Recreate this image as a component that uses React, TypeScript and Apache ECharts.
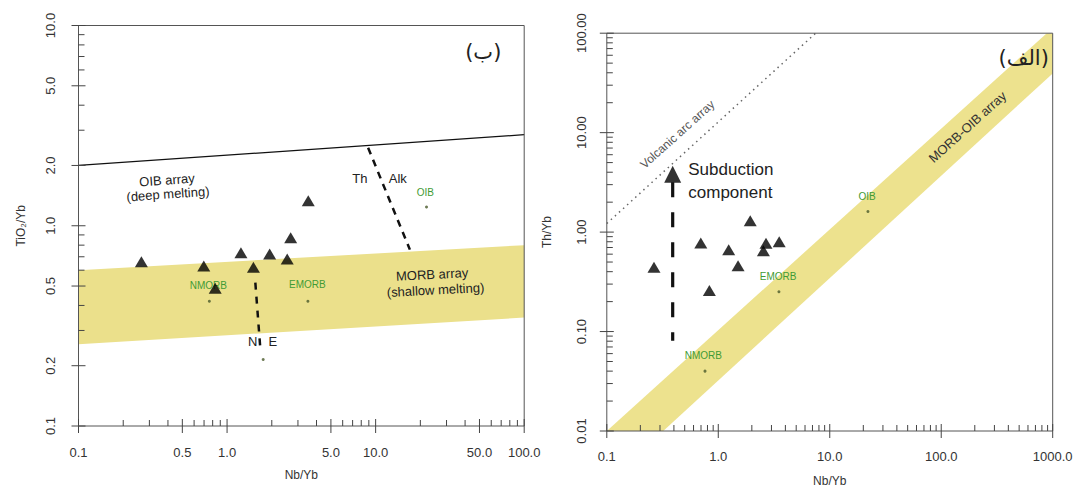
import React, { useEffect, useRef } from "react";
import * as echarts from "echarts";

const FONT = "'Liberation Sans', Arial, Helvetica, sans-serif";
const ARABIC_FONT = "'DejaVu Sans', 'Noto Sans', sans-serif";
const AXIS_COLOR = "#444";
const GREEN = "#3f9b35";

// ---- samples (same rocks in both diagrams) ----
const sampleNbYb = [0.265, 0.697, 0.832, 1.24, 1.505, 1.935, 2.54, 2.68, 3.52];
const sampleTiO2Yb = [0.661, 0.63, 0.487, 0.733, 0.62, 0.723, 0.682, 0.872, 1.334];
const sampleThYb = [0.443, 0.776, 0.259, 0.665, 0.46, 1.298, 0.65, 0.771, 0.8];

// ---- reference compositions ----
const refNames = ["NMORB", "EMORB", "OIB"];
const refNbYb = [0.76, 3.5, 22];
const refTiO2Yb = [0.42, 0.42, 1.24];
const refThYb = [0.04, 0.251, 1.61];
const strayDot = [[1.75, 0.215]];

// ---- left diagram fields ----
const oibLineX = [0.1, 100];
const oibLineY = [2.0, 2.85];
const thAlkX = [8.9, 17.0];
const thAlkY = [2.45, 0.76];
const neX = [1.55, 1.67];
const neY = [0.52, 0.25];
const morbBandX = [0.1, 100, 100, 0.1];
const morbBandY = [0.6, 0.8, 0.348, 0.256];

// ---- right diagram fields ----
const arrayBandX = [0.1, 885, 1000, 1000, 0.321];
const arrayBandY = [0.01, 100, 100, 39.4, 0.01];
const volcArcX = [0.1, 7.47];
const volcArcY = [1.22, 100];
const subductionX = [0.39, 0.39];
const subductionY = [3.17, 0.081];
const arrowHead = [[0.39, 3.81]];

// ---- ticks ----
const leftXMajor = [0.1, 0.5, 1, 5, 10, 50, 100];
const leftXMajorLabels = ["0.1", "0.5", "1.0", "5.0", "10.0", "50.0", "100.0"];
const leftXMinor = [0.2, 0.3, 0.4, 0.6, 0.7, 0.8, 0.9, 2, 3, 4, 6, 7, 8, 9, 20, 30, 40, 60, 70, 80, 90];
const leftYMajor = [0.1, 0.2, 0.5, 1, 2, 5, 10];
const leftYMajorLabels = ["0.1", "0.2", "0.5", "1.0", "2.0", "5.0", "10.0"];
const leftYMinor = [0.3, 0.4, 0.6, 0.7, 0.8, 0.9, 3, 4, 6, 7, 8, 9];
const rightXMajor = [0.1, 1, 10, 100, 1000];
const rightXMajorLabels = ["0.1", "1.0", "10.0", "100.0", "1000.0"];
const rightXMinor = [
  0.2, 0.3, 0.4, 0.5, 0.6, 0.7, 0.8, 0.9,
  2, 3, 4, 5, 6, 7, 8, 9,
  20, 30, 40, 50, 60, 70, 80, 90,
  200, 300, 400, 500, 600, 700, 800, 900,
];
const rightYMajor = [0.01, 0.1, 1, 10, 100];
const rightYMajorLabels = ["0.01", "0.10", "1.00", "10.00", "100.00"];
const rightYMinor = [
  0.02, 0.03, 0.04, 0.05, 0.06, 0.07, 0.08, 0.09,
  0.2, 0.3, 0.4, 0.5, 0.6, 0.7, 0.8, 0.9,
  2, 3, 4, 5, 6, 7, 8, 9,
  20, 30, 40, 50, 60, 70, 80, 90,
];

// ---- annotations (anchored in data coordinates) ----
const leftNoteText = ["OIB array", "(deep melting)", "MORB array", "(shallow melting)", "Th", "Alk", "N", "E"];
const leftNoteX = [0.394, 0.4, 24.0, 25.3, 7.84, 14.1, 1.49, 2.03];
const leftNoteY = [1.69, 1.44, 0.571, 0.478, 1.72, 1.72, 0.264, 0.264];
const leftNoteRot = [4, 4, 3, 3, 0, 0, 0, 0];
const leftRefLabelX = [0.748, 3.47, 21.6];
const leftRefLabelY = [0.503, 0.511, 1.46];
const leftTag = "(ب)";
const leftTagPos = [53, 7.4];

const rightNoteText = ["Subduction", "component", "Volcanic arc array", "MORB-OIB array"];
const rightNoteX = [0.538, 0.538, 0.43, 172];
const rightNoteY = [4.22, 2.5, 9.6, 11.4];
const rightNoteRot = [0, 0, 42, 42];
const rightRefLabelX = [0.734, 3.44, 21.6];
const rightRefLabelY = [0.0578, 0.3585, 2.3];
const rightTag = "(الف)";
const rightTagPos = [549, 56.1];

function pairs(xs: number[], ys: number[]) {
  return xs.map((x, i) => [x, ys[i]]);
}

function tickSeries(gi: number, dir: "x" | "y", values: number[], labels: string[] | null, anchor: number, major: boolean, labelOff: number) {
  return {
    type: "custom",
    xAxisIndex: gi,
    yAxisIndex: gi,
    z: 6,
    silent: true,
    clip: false,
    data: values.map((v) => (dir === "x" ? [v, anchor] : [anchor, v])),
    renderItem: (params: any, api: any) => {
      const i = params.dataIndex;
      const v = values[i];
      const p = api.coord(dir === "x" ? [v, anchor] : [anchor, v]);
      const st = { stroke: AXIS_COLOR, lineWidth: 1 };
      const children: any[] = [];
      if (dir === "x") {
        children.push({
          type: "line",
          shape: major ? { x1: p[0], y1: p[1] - 7, x2: p[0], y2: p[1] + 7 } : { x1: p[0], y1: p[1], x2: p[0], y2: p[1] - 6 },
          style: st,
        });
        if (labels)
          children.push({
            type: "text",
            x: p[0],
            y: p[1] + labelOff,
            style: { text: labels[i], fill: "#333", fontSize: 13, fontFamily: FONT, align: "center", verticalAlign: "middle" },
          });
      } else {
        children.push({
          type: "line",
          shape: major ? { x1: p[0] - 7, y1: p[1], x2: p[0] + 7, y2: p[1] } : { x1: p[0], y1: p[1], x2: p[0] + 6, y2: p[1] },
          style: st,
        });
        if (labels)
          children.push({
            type: "text",
            x: p[0] - labelOff,
            y: p[1],
            rotation: Math.PI / 2,
            style: { text: labels[i], fill: "#333", fontSize: 13, fontFamily: FONT, align: "center", verticalAlign: "middle" },
          });
      }
      return { type: "group", children };
    },
  };
}

function polygonSeries(gi: number, xs: number[], ys: number[], color: string) {
  return {
    type: "custom",
    xAxisIndex: gi,
    yAxisIndex: gi,
    z: 1,
    silent: true,
    clip: true,
    data: [[xs[0], ys[0]]],
    renderItem: (params: any, api: any) => {
      const pts = xs.map((x, i) => api.coord([x, ys[i]]));
      return { type: "polygon", shape: { points: pts }, style: { fill: color } };
    },
  };
}

function textSeries(gi: number, xs: number[], ys: number[], texts: string[], styleFn: (i: number) => any, rotDeg: number[] | null) {
  return {
    type: "custom",
    xAxisIndex: gi,
    yAxisIndex: gi,
    z: 4,
    silent: true,
    clip: false,
    data: pairs(xs, ys),
    renderItem: (params: any, api: any) => {
      const i = params.dataIndex;
      const p = api.coord([xs[i], ys[i]]);
      return {
        type: "text",
        x: p[0],
        y: p[1],
        rotation: rotDeg ? (rotDeg[i] * Math.PI) / 180 : 0,
        style: Object.assign({ text: texts[i], align: "center", verticalAlign: "middle" }, styleFn(i)),
      };
    },
  };
}

function lineSeries(gi: number, xs: number[], ys: number[], width: number, type: any, color: string) {
  return {
    type: "line",
    xAxisIndex: gi,
    yAxisIndex: gi,
    z: 3,
    silent: true,
    showSymbol: false,
    symbol: "none",
    data: pairs(xs, ys),
    lineStyle: { color, width, type, cap: "butt" },
  };
}

function axis(gi: number, min: number, max: number, name: string, nameGap: number) {
  return {
    type: "log",
    logBase: 10,
    gridIndex: gi,
    min,
    max,
    axisLine: { show: false },
    axisTick: { show: false },
    axisLabel: { show: false },
    splitLine: { show: false },
    name,
    nameLocation: "middle",
    nameGap,
    nameTextStyle: { color: "#333", fontSize: 12, fontFamily: FONT },
  };
}

function buildOption() {
  const noteStyle = (size: number, color: string) => ({ fill: color, fontSize: size, fontFamily: FONT });
  return {
    animation: false,
    backgroundColor: "#ffffff",
    grid: [
      { left: 78.5, right: 552.8, top: 25.5, bottom: 66, show: true, borderColor: "#555", borderWidth: 1, z: 5 },
      { left: 606.8, right: 24.3, top: 33.2, bottom: 59.2, show: true, borderColor: "#555", borderWidth: 1, z: 5 },
    ],
    xAxis: [axis(0, 0.1, 100, "Nb/Yb", 43), axis(1, 0.1, 1000, "Nb/Yb", 44)],
    yAxis: [axis(0, 0.1, 10, "TiO₂/Yb", 52), axis(1, 0.01, 100, "Th/Yb", 54)],
    series: [
      // left diagram
      polygonSeries(0, morbBandX, morbBandY, "#ebe08b"),
      lineSeries(0, oibLineX, oibLineY, 1.2, "solid", "#111"),
      lineSeries(0, thAlkX, thAlkY, 2.5, [7, 6], "#111"),
      lineSeries(0, neX, neY, 2.5, [7, 7], "#111"),
      {
        type: "scatter", xAxisIndex: 0, yAxisIndex: 0, z: 4, silent: true,
        symbol: "triangle", symbolSize: [13, 11], itemStyle: { color: "#000" },
        data: pairs(sampleNbYb, sampleTiO2Yb),
      },
      {
        type: "scatter", xAxisIndex: 0, yAxisIndex: 0, z: 4, silent: true,
        symbol: "circle", symbolSize: 3, itemStyle: { color: "#4a5a2a" },
        data: pairs(refNbYb, refTiO2Yb).concat(strayDot),
      },
      textSeries(0, leftNoteX, leftNoteY, leftNoteText, () => noteStyle(13, "#222"), leftNoteRot),
      textSeries(0, leftRefLabelX, leftRefLabelY, refNames, () => noteStyle(10, GREEN), null),
      textSeries(0, [leftTagPos[0]], [leftTagPos[1]], [leftTag], () => ({ fill: "#222", fontSize: 21, fontFamily: ARABIC_FONT }), null),
      tickSeries(0, "x", leftXMajor, leftXMajorLabels, 0.1, true, 26),
      tickSeries(0, "x", leftXMinor, null, 0.1, false, 0),
      tickSeries(0, "y", leftYMajor, leftYMajorLabels, 0.1, true, 28.5),
      tickSeries(0, "y", leftYMinor, null, 0.1, false, 0),

      // right diagram
      polygonSeries(1, arrayBandX, arrayBandY, "#ede28e"),
      lineSeries(1, volcArcX, volcArcY, 1.5, [1.5, 4], "#666"),
      lineSeries(1, subductionX, subductionY, 3.2, [15, 15], "#111"),
      {
        type: "scatter", xAxisIndex: 1, yAxisIndex: 1, z: 4, silent: true,
        symbol: "triangle", symbolSize: [17, 17], itemStyle: { color: "#000" },
        data: arrowHead,
      },
      {
        type: "scatter", xAxisIndex: 1, yAxisIndex: 1, z: 4, silent: true,
        symbol: "triangle", symbolSize: [13, 11], itemStyle: { color: "#000" },
        data: pairs(sampleNbYb, sampleThYb),
      },
      {
        type: "scatter", xAxisIndex: 1, yAxisIndex: 1, z: 4, silent: true,
        symbol: "circle", symbolSize: 3, itemStyle: { color: "#4a5a2a" },
        data: pairs(refNbYb, refThYb),
      },
      textSeries(
        1, rightNoteX, rightNoteY, rightNoteText,
        (i) => (i < 2 ? Object.assign(noteStyle(17, "#222"), { align: "left" }) : i === 2 ? noteStyle(12, "#555") : noteStyle(13, "#333")),
        rightNoteRot
      ),
      textSeries(1, rightRefLabelX, rightRefLabelY, refNames, () => noteStyle(10, GREEN), null),
      textSeries(1, [rightTagPos[0]], [rightTagPos[1]], [rightTag], () => ({ fill: "#222", fontSize: 21, fontFamily: ARABIC_FONT }), null),
      tickSeries(1, "x", rightXMajor, rightXMajorLabels, 0.01, true, 25.5),
      tickSeries(1, "x", rightXMinor, null, 0.01, false, 0),
      tickSeries(1, "y", rightYMajor, rightYMajorLabels, 0.1, true, 25.7),
      tickSeries(1, "y", rightYMinor, null, 0.1, false, 0),
    ],
  };
}

export default function App() {
  const ref = useRef<HTMLDivElement>(null);
  useEffect(() => {
    if (!ref.current) return;
    const chart = echarts.init(ref.current, null, { renderer: "svg" });
    chart.setOption(buildOption() as any);
    return () => chart.dispose();
  }, []);
  return (
    <div
      ref={ref}
      style={{ position: "absolute", left: 0, top: 0, width: 1077, height: 492, background: "#fff" }}
    />
  );
}
